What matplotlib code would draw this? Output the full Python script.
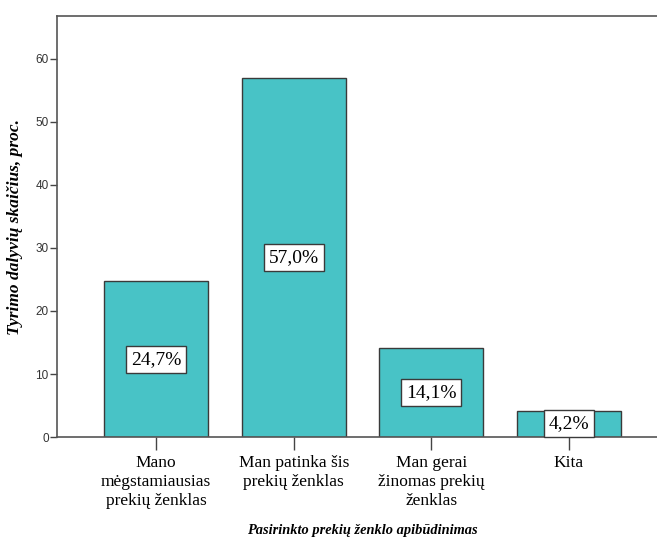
import matplotlib
matplotlib.use("Agg")
import matplotlib.pyplot as plt

categories = ["Mano\nmėgstamiausias\nprekių ženklas",
              "Man patinka šis\nprekių ženklas",
              "Man gerai\nžinomas prekių\nženklas",
              "Kita"]
values = [24.7, 57.0, 14.1, 4.2]
value_labels = ["24,7%", "57,0%", "14,1%", "4,2%"]
yticks = [0, 10, 20, 30, 40, 50, 60]

bar_color = "#48C3C6"
edge_color = "#3a3a3a"
serif = ["Liberation Serif", "DejaVu Serif"]

fig = plt.figure(figsize=(6.57, 5.4), dpi=100)
ax = fig.add_axes([0.0868, 0.1907, 0.930, 0.7796])

x = list(range(len(categories)))
ax.bar(x, values, width=0.755, color=bar_color, edgecolor=edge_color, linewidth=1.0)

# percentage boxes in the middle of each bar
for xi, v, lab in zip(x, values, value_labels):
    ax.text(xi, v / 2, lab, ha="center", va="center", fontsize=14,
            family=serif, color="black",
            bbox=dict(boxstyle="square,pad=0.25", fc="white", ec=edge_color, lw=1.0))

ax.set_xlim(-0.72, 3.72)
ax.set_ylim(0, 66.8)
ax.set_yticks(yticks)
ax.set_yticklabels([str(t) for t in yticks], family=["Liberation Sans"], fontsize=8.5, color="#333333")
ax.set_xticks(x)
ax.set_xticklabels(categories, family=serif, fontsize=12.5, linespacing=1.25)

ax.tick_params(axis="y", direction="out", length=5, width=1, color="#444444", pad=1)
ax.tick_params(axis="x", direction="out", length=9, width=1, color="#444444", pad=4)

for s in ax.spines.values():
    s.set_color("#555555")
    s.set_linewidth(1.2)

ax.set_ylabel("Tyrimo dalyvių skaičius, proc.", family=serif, style="italic",
              fontweight="bold", fontsize=12.5, labelpad=9)
ax.set_xlabel("Pasirinkto prekių ženklo apibūdinimas", family=serif, style="italic",
              fontweight="bold", fontsize=10.4, labelpad=11)

fig.savefig("out.png", dpi=100)
